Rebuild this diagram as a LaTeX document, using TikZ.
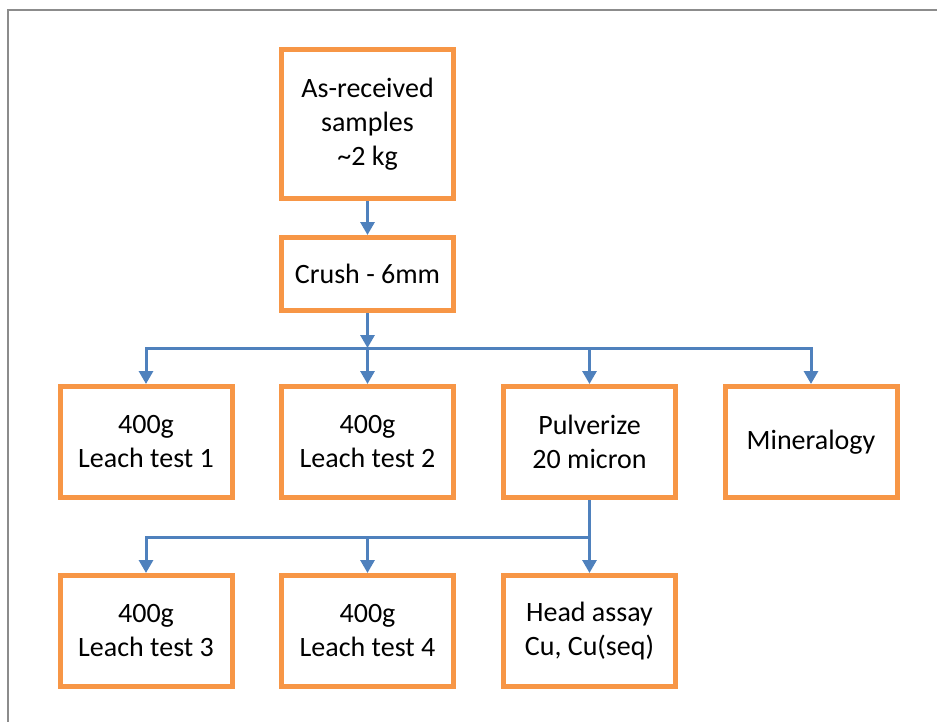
\documentclass[tikz,border=0pt]{standalone}
\usepackage{fontspec}
\setmainfont{Carlito}
\usepackage{tikz}
\usetikzlibrary{arrows.meta}
\definecolor{boxorange}{HTML}{F79646}
\definecolor{linkblue}{HTML}{4F81BD}
\tikzstyle{box}=[rectangle, draw=boxorange, line width=2.5pt, fill=white, align=center, minimum width=86pt, minimum height=55.5pt, inner sep=0pt, font=\fontsize{14}{17}\selectfont]
\tikzstyle{link}=[draw=linkblue, line width=1.5pt, -{Triangle[width=7pt,length=6.5pt]}]

\begin{document}
\begin{tikzpicture}[x=0.5pt, y=-0.5pt]
                    \useasboundingbox (0,0) rectangle (937,722);
                    \draw[gray!90, line width=1pt] (8,722) -- (8,10) -- (937,10);
                    % top of the chain
                    \node[box, minimum height=74.5pt] (recv)  at (367.5,124) {As-received\\samples\\\textasciitilde2 kg};
                    \node[box, minimum height=36.5pt] (crush) at (367.5,274) {Crush - 6mm};
                    % second row
                    \node[box] (lt1)  at (146,  442) {400g\\Leach test 1};
                    \node[box] (lt2)  at (367.5,442) {400g\\Leach test 2};
                    \node[box] (pulv) at (589.5,442) {Pulverize\\20 micron};
                    \node[box] (mine) at (811,  442) {Mineralogy};
                    % third row
                    \node[box] (lt3)  at (146,  631) {400g\\Leach test 3};
                    \node[box] (lt4)  at (367.5,631) {400g\\Leach test 4};
                    \node[box] (head) at (589.5,631) {Head assay\\Cu, Cu(seq)};
                    \coordinate (bus1) at (367.5,348);
                    \coordinate (bus2) at (589.5,537);
                    \draw[link] (recv)  -- (crush);
                    \draw[link] (crush) -- (bus1);
                    \draw[link] (bus1) -| (lt1);
                    \draw[link] (bus1) -- (lt2);
                    \draw[link] (bus1) -| (pulv);
                    \draw[link] (bus1) -| (mine);
                    \draw[link, -] (pulv) -- (bus2);
                    \draw[link] (bus2) -| (lt3);
                    \draw[link] (bus2) -| (lt4);
                    \draw[link] (bus2) -- (head);
                \end{tikzpicture}
\end{document}
